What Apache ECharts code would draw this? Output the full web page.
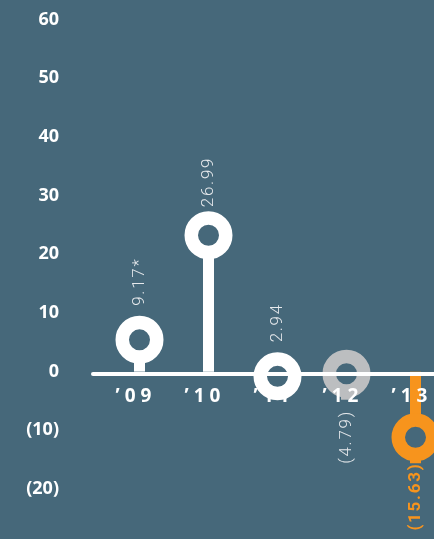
<!DOCTYPE html>
<html><head><meta charset="utf-8">
<script src="https://cdn.jsdelivr.net/npm/echarts@6/dist/echarts.min.js"></script>
<style>html,body{margin:0;padding:0;background:#46687a;overflow:hidden}#c{width:470px;height:539px}</style>
</head><body><div id="c"></div>
<script>
// ---- data ----
const categories = ['’09', '’10', '’11', '’12', '’13'];
const values = [9.17, 26.99, 2.94, -4.79, -15.63];
const notes = ['*', '', '', '', ''];
const yMin = -20, yMax = 60, yStep = 10;

// ---- styles ----
const BG = '#46687a';
const markColors = ['#ffffff', '#ffffff', '#ffffff', '#bcbec0', '#f7941d'];
const labelColors = ['#e6e9ec', '#e6e9ec', '#e6e9ec', '#e6e9ec', '#f7941d'];
const labelWeights = ['300', '300', '300', '300', 'bold'];
const labelGaps = [10, 4, 10, 14, 3];

function spaced(s, sep) { return s.split('').join(sep); }
function fmtVal(v) { return v < 0 ? '(' + Math.abs(v).toFixed(2) + ')' : v.toFixed(2); }
function fmtAxis(v) { return v < 0 ? '(' + Math.abs(v) + ')' : String(v); }

const chart = echarts.init(document.getElementById('c'), null, { renderer: 'canvas' });

const gridTop = 19.5, gridBottom = 50;

chart.setOption({
  backgroundColor: BG,
  animation: false,
  grid: [
    { left: 93, right: 0, top: 0, height: 374 },
    { left: 105, width: 345, top: gridTop, bottom: gridBottom }
  ],
  xAxis: [
    { gridIndex: 0, type: 'value', min: 0, max: 1, position: 'bottom', zlevel: 1, z: 10,
      axisLine: { show: true, onZero: false, lineStyle: { color: '#ffffff', width: 4 } },
      axisTick: { show: false }, axisLabel: { show: false }, splitLine: { show: false } },
    { gridIndex: 1, type: 'category', data: categories, boundaryGap: true,
      position: 'bottom', offset: -115, zlevel: 1, z: 10,
      axisLine: { show: false, onZero: false },
      axisTick: { show: false }, splitLine: { show: false },
      axisLabel: { color: '#ffffff', fontFamily: 'Open Sans', fontWeight: 'bold', fontSize: 19,
        margin: 13, padding: [0, 12, 0, 0],
        formatter: function (s) { return spaced(s, '\u2009\u200A'); } } }
  ],
  yAxis: [
    { gridIndex: 0, type: 'value', min: 0, max: 1, show: false },
    { gridIndex: 1, type: 'value', min: yMin, max: yMax, interval: yStep,
      axisLine: { show: false }, axisTick: { show: false }, splitLine: { show: false },
      axisLabel: { color: '#ffffff', fontFamily: 'Open Sans', fontWeight: 'bold', fontSize: 18,
        margin: 46, formatter: fmtAxis } }
  ],
  series: [
    { type: 'bar', xAxisIndex: 1, yAxisIndex: 1, barWidth: 11, z: 2,
      data: values.map(function (v, i) { return { value: v, itemStyle: { color: markColors[i], opacity: 1 } }; }) },
    { type: 'scatter', xAxisIndex: 1, yAxisIndex: 1, z: 3,
      symbol: 'circle', symbolSize: 34.5,
      itemStyle: { opacity: 1 },
      emphasis: { disabled: true },
      data: values.map(function (v, i) {
        const pos = v >= 0;
        return {
          value: v,
          symbolOffset: [0, pos ? 22 : -26],
          itemStyle: { color: BG, borderColor: markColors[i], borderWidth: 13.5, opacity: 1 },
          label: {
            show: true, position: pos ? 'top' : 'bottom', distance: labelGaps[i], rotate: 90,
            align: pos ? 'left' : 'right', verticalAlign: 'middle',
            color: labelColors[i], fontWeight: labelWeights[i], fontFamily: 'Roboto', fontSize: 17,
            formatter: function () { return spaced(fmtVal(v) + notes[i], '\u200A'); }
          }
        };
      }) }
  ]
});
</script></body></html>
